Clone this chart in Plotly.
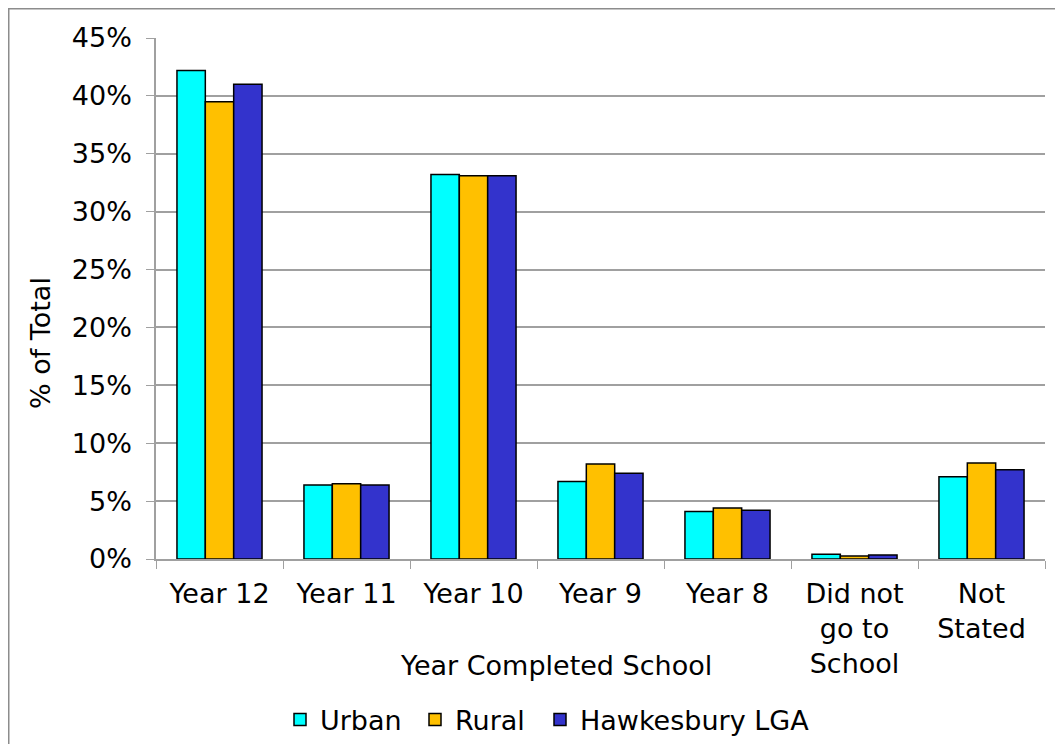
import plotly.graph_objects as go

categories = ["Year 12", "Year 11", "Year 10", "Year 9", "Year 8", "Did not<br>go to<br>School", "Not<br>Stated"]
urban = [42.2, 6.4, 33.2, 6.7, 4.1, 0.4, 7.1]
rural = [39.5, 6.5, 33.1, 8.2, 4.4, 0.25, 8.3]
hawkesbury = [41.0, 6.4, 33.1, 7.4, 4.2, 0.35, 7.7]
series_names = ["Urban", "Rural", "Hawkesbury LGA"]
colors = ["#00FFFF", "#FFC000", "#3333CC"]
y_ticks = [0, 5, 10, 15, 20, 25, 30, 35, 40, 45]

FONT = "Verdana, DejaVu Sans, sans-serif"
FS = 27

# page has an 8px body margin, so the figure is shifted by 8px
L, T, PW, PH = 148, 30, 889, 521

legend_ids = ["legend", "legend2", "legend3"]
legend_x = [280, 415, 540]  # screen px of each legend's left edge

fig = go.Figure()
for name, vals, col, lid in zip(series_names, [urban, rural, hawkesbury], colors, legend_ids):
    fig.add_trace(go.Bar(
        x=categories, y=vals, name=name, legend=lid,
        marker=dict(color=col, line=dict(color="black", width=1.5)),
    ))

legends = {}
for lid, lx in zip(legend_ids, legend_x):
    legends[lid] = dict(orientation="h", x=(lx - 156) / PW, y=(559 - 720) / PH,
                        xanchor="left", yanchor="middle", bgcolor="rgba(0,0,0,0)",
                        font=dict(size=FS), itemwidth=30, tracegroupgap=0)

fig.update_layout(
    width=1055, height=736,
    margin=dict(l=L, r=1055 - L - PW, t=T, b=736 - T - PH, autoexpand=False),
    paper_bgcolor="white", plot_bgcolor="white",
    font=dict(family=FONT, size=FS, color="black"),
    barmode="group", bargap=0.33, bargroupgap=0,
    showlegend=True,
    **legends,
    xaxis=dict(showline=True, linecolor="#a0a0a0", linewidth=1.5,
               ticks="outside", tickson="boundaries", ticklen=8, tickcolor="#a0a0a0",
               tickfont=dict(size=FS), ticklabelstandoff=10),
    yaxis=dict(range=[0, 45], tickvals=y_ticks, ticktext=[f"{v}%" for v in y_ticks],
               showline=True, linecolor="#a0a0a0", linewidth=1.5,
               ticks="outside", ticklen=8, tickcolor="#a0a0a0",
               showgrid=True, gridcolor="#a0a0a0", gridwidth=1.5,
               tickfont=dict(size=FS), zeroline=False, ticklabelstandoff=9),
    annotations=[
        dict(text="Year Completed School", xref="paper", yref="paper",
             x=(556 - 156) / PW, y=(559 - 665) / PH, showarrow=False,
             xanchor="center", yanchor="middle", font=dict(size=FS)),
        dict(text="% of Total", xref="paper", yref="paper",
             x=(40 - 156) / PW, y=(559 - 343) / PH, showarrow=False, textangle=-90,
             xanchor="center", yanchor="middle", font=dict(size=FS)),
    ],
    shapes=[
        dict(type="rect", xref="paper", yref="paper",
             x0=(8.75 - 156) / PW, x1=1.1, y0=-0.5, y1=(559 - 8.75) / PH,
             line=dict(color="#8c8c8c", width=1.5), fillcolor="rgba(0,0,0,0)", layer="below"),
    ],
)

fig.write_html("out.html")
